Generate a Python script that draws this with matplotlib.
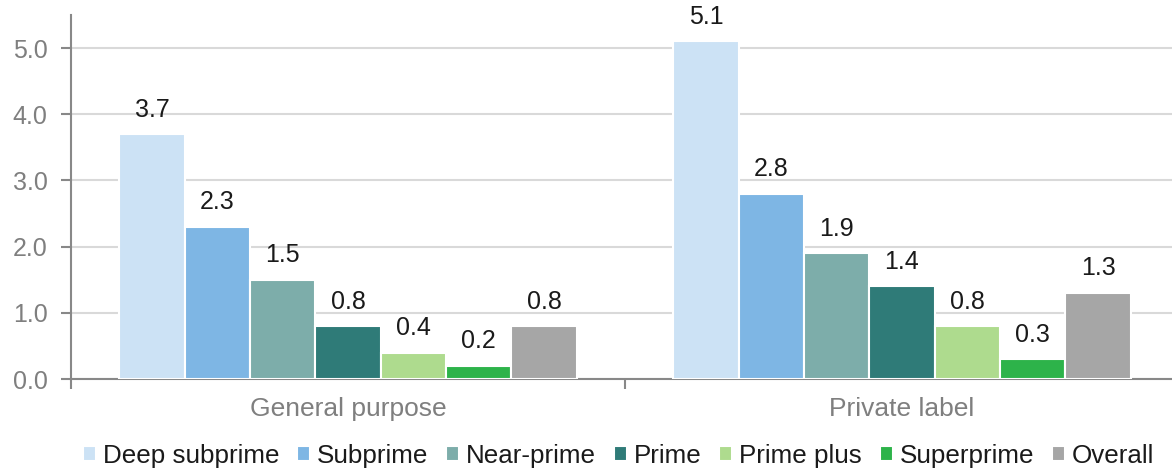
import numpy as np
import matplotlib.pyplot as plt

plt.rcParams['font.family'] = ['Liberation Sans', 'DejaVu Sans']

categories = ['General purpose', 'Private label']
series = ['Deep subprime', 'Subprime', 'Near-prime', 'Prime', 'Prime plus', 'Superprime', 'Overall']
values = {
    'Deep subprime': [3.7, 5.1],
    'Subprime': [2.3, 2.8],
    'Near-prime': [1.5, 1.9],
    'Prime': [0.8, 1.4],
    'Prime plus': [0.4, 0.8],
    'Superprime': [0.2, 0.3],
    'Overall': [0.8, 1.3],
}
colors = ['#cce2f5', '#7eb6e4', '#7dadaa', '#2f7b78', '#aedb8e', '#2db34a', '#a6a6a6']

fig = plt.figure(figsize=(11.72, 4.73), dpi=100)
ax = fig.add_axes([71 / 1172, 94 / 473, 1108 / 1172, 364 / 473])

x = np.arange(len(categories))
w = 0.118
n = len(series)
for i, (name, col) in enumerate(zip(series, colors)):
    xs = x + (i - (n - 1) / 2) * w
    bars = ax.bar(xs, values[name], w, color=col, edgecolor='white', linewidth=1.5,
                  label=name, zorder=3)
    for b, v in zip(bars, values[name]):
        ax.annotate(f'{v:.1f}', (b.get_x() + b.get_width() / 2, b.get_height()),
                    xytext=(0, 9), textcoords='offset points', ha='center', va='bottom',
                    fontsize=18, color='#1a1a1a')

ax.set_xlim(-0.5, 1.5)
ax.set_ylim(0, 5.5)
ax.set_yticks(np.arange(0, 6, 1.0))
ax.set_yticklabels([f'{t:.1f}' for t in np.arange(0, 6, 1.0)])
ax.yaxis.grid(True, color='#d9d9d9', linewidth=1.5, zorder=0)
ax.set_axisbelow(True)

ax.set_xticks(x)
ax.set_xticklabels(categories)
ax.set_xticks([-0.5, 0.5, 1.5], minor=True)
ax.tick_params(axis='x', which='major', length=0, pad=13, labelsize=19, labelcolor='#7f7f7f')
ax.tick_params(axis='x', which='minor', length=7, width=1.5, color='#888888')
ax.tick_params(axis='y', length=7, width=1.5, color='#888888', labelsize=18,
               labelcolor='#7f7f7f', pad=10)

for s in ['top', 'right']:
    ax.spines[s].set_visible(False)
for s in ['left', 'bottom']:
    ax.spines[s].set_color('#888888')
    ax.spines[s].set_linewidth(1.5)

fig.legend(loc='center left', bbox_to_anchor=(83 / 1172, 1 - 456 / 473), ncol=7,
           frameon=False, fontsize=18.7, handlelength=0.5, handleheight=0.5,
           handletextpad=0.27, columnspacing=0.68, borderpad=0, borderaxespad=0,
           labelcolor='#1a1a1a')

fig.savefig('out.png', dpi=100)
